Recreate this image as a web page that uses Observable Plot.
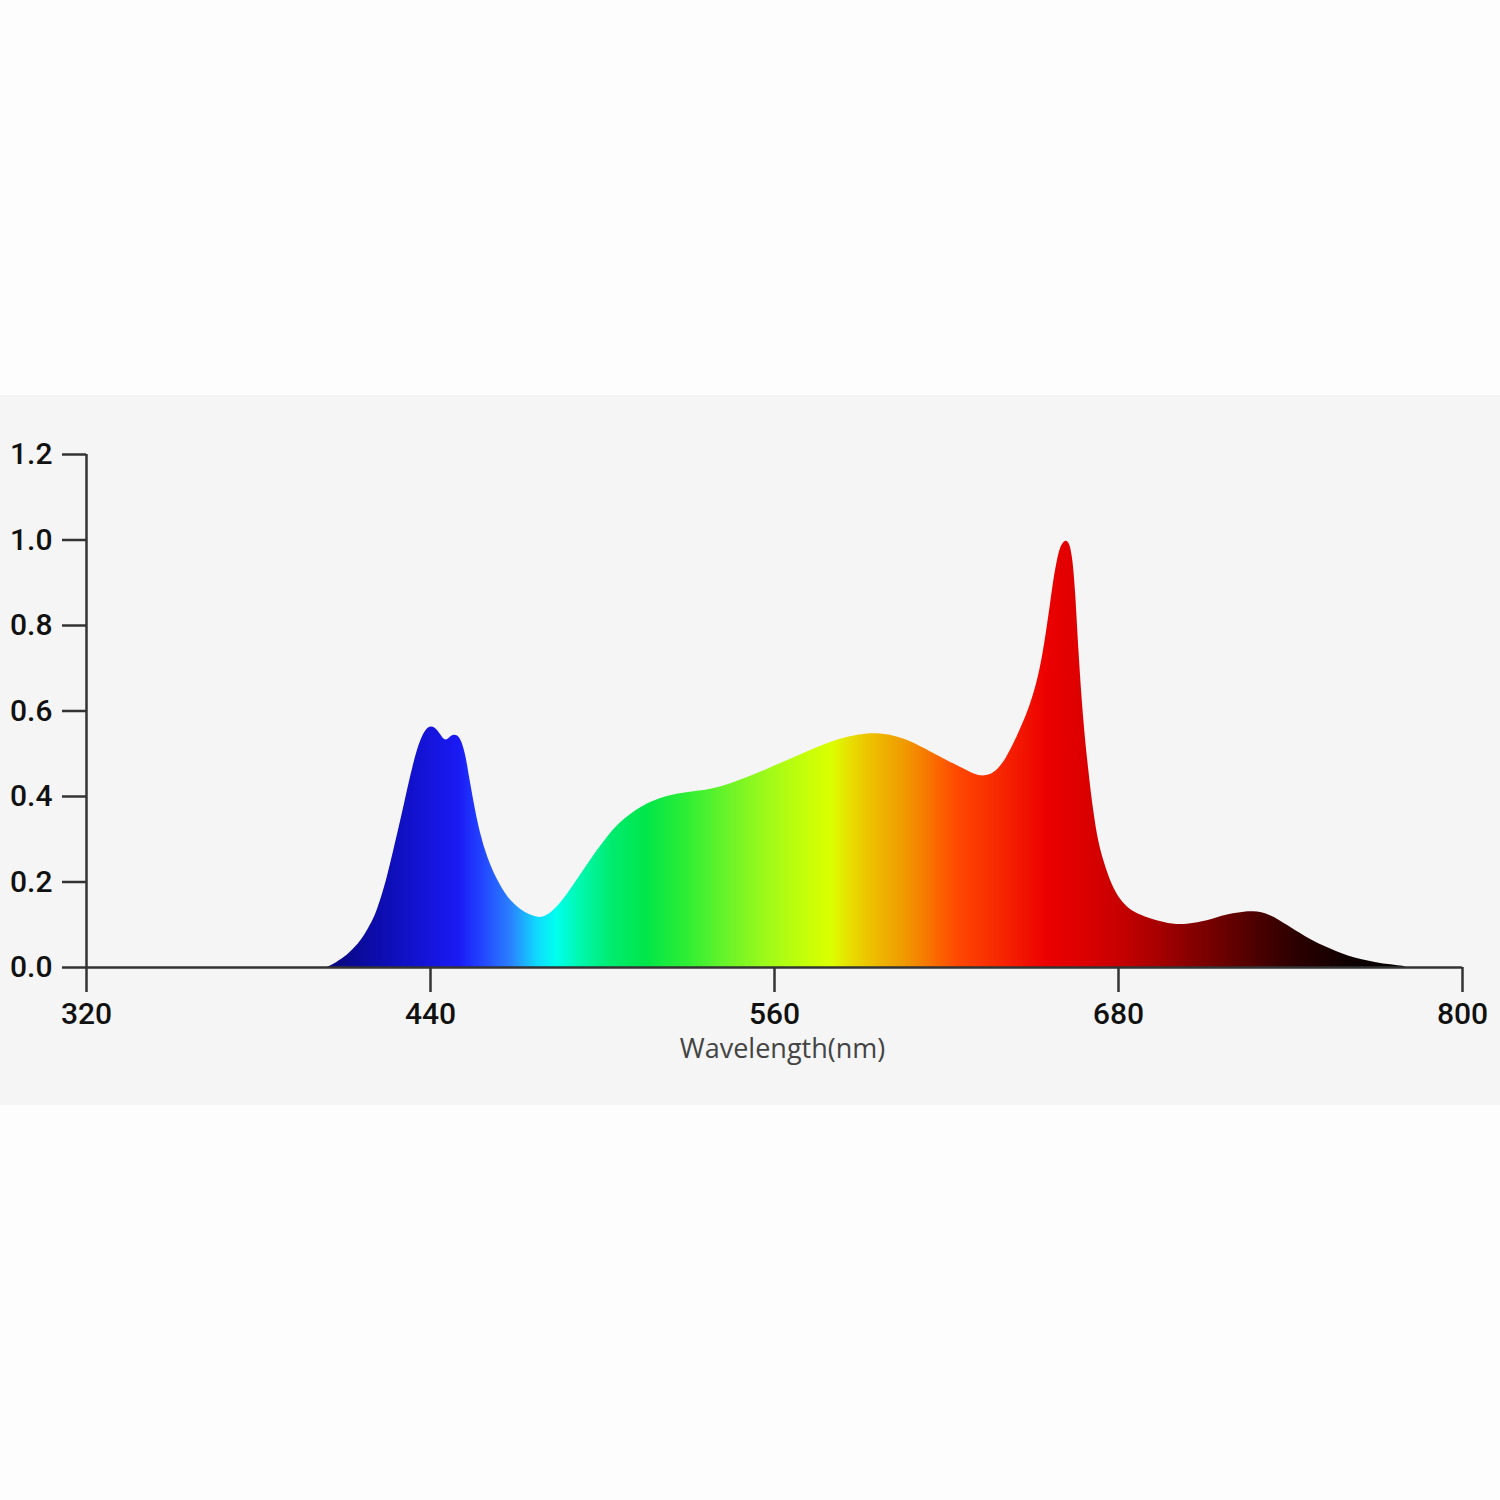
<!DOCTYPE html>
<html><head><meta charset="utf-8">
<script src="https://cdn.jsdelivr.net/npm/d3@7"></script>
<script src="https://cdn.jsdelivr.net/npm/@observablehq/plot@0.6"></script>
<style>
html,body{margin:0;padding:0;background:#fdfdfd;overflow:hidden;}
#top{height:395px;}
#panel{background:#f5f5f5;width:1500px;height:710px;}
</style></head><body>
<div id="top"></div><div id="panel"></div>
<script>
// Spectrum (nm, relative intensity)
const wavelengths = [404,407.5,410,413,415,417,419,421,423,425,427,429,431,433,435,437,439.3,441.7,443.5,445.2,446.8,448.2,450.5,452.2,453,454,455.7,457.4,459.8,463.3,466.8,471.4,477.3,480,483,487,492,497,502,506,510,516,521,527,533,539,545,551,557,562,568,574,580,586,592,597,601,605,609,614,620,625,629,632,635,638,641,644,647,649.3,651.6,653.5,655,656.3,657.4,658.6,659.8,661.5,662.8,663.9,665,666.2,667.8,669.6,671.4,673,674.8,677.5,680.7,684,687.7,693,699,704,709,713,716,720,724,727,730,733,736,739,742,745,748,752,756,760,765,770,775,780];
const intensities = [0,0.012,0.023,0.042,0.056,0.075,0.098,0.125,0.165,0.212,0.268,0.325,0.385,0.445,0.5,0.54,0.565,0.562,0.545,0.528,0.538,0.545,0.54,0.5,0.47,0.43,0.367,0.313,0.258,0.204,0.164,0.133,0.115,0.118,0.132,0.163,0.213,0.263,0.308,0.338,0.36,0.385,0.398,0.407,0.412,0.418,0.43,0.445,0.462,0.477,0.494,0.512,0.528,0.54,0.547,0.547,0.543,0.535,0.524,0.506,0.485,0.468,0.454,0.447,0.449,0.462,0.49,0.53,0.575,0.615,0.665,0.725,0.79,0.85,0.905,0.95,0.985,1.0,0.995,0.968,0.89,0.734,0.578,0.46,0.36,0.295,0.25,0.195,0.157,0.135,0.122,0.109,0.1,0.1,0.106,0.113,0.12,0.126,0.13,0.131,0.129,0.122,0.111,0.098,0.085,0.073,0.062,0.049,0.037,0.027,0.018,0.011,0.006,0.002];
// Spectral fill colours by wavelength
const gradientNm = [404,420,435,450,458,468,477,484,492,503,515,530,545,558,572,580,587,596,606,615,624,635,645,655,668,680,692,705,718,730,742,760,780];
const gradientColors = ["#08087a","#0c0ca8","#1212d0","#1a1af5","#2244ff","#2a80ff","#10d8ff","#00ffee","#00f8b0","#00ec70","#00e64a","#30ee34","#70f428","#a0fa18","#c8ff08","#dcff00","#e8dc00","#eeb800","#f09800","#f87000","#ff4800","#f83000","#f41800","#ec0000","#dc0000","#c80000","#ac0000","#880000","#680000","#480000","#2c0000","#100000","#000000"];
const xTicks = [320,440,560,680,800];
const yTicks = [0,0.2,0.4,0.6,0.8,1.0,1.2];
const xLabel = "Wavelength(nm)";

const data = wavelengths.map((nm, i) => ({nm, value: intensities[i]}));

function gradientDefs(index, scales) {
  const ns = "http://www.w3.org/2000/svg";
  const defs = document.createElementNS(ns, "defs");
  const lg = document.createElementNS(ns, "linearGradient");
  lg.setAttribute("id", "spectrum");
  lg.setAttribute("gradientUnits", "userSpaceOnUse");
  const a = gradientNm[0], b = gradientNm[gradientNm.length - 1];
  lg.setAttribute("x1", scales.x(a));
  lg.setAttribute("x2", scales.x(b));
  lg.setAttribute("y1", 0);
  lg.setAttribute("y2", 0);
  gradientNm.forEach((nm, i) => {
    const s = document.createElementNS(ns, "stop");
    s.setAttribute("offset", (nm - a) / (b - a));
    s.setAttribute("stop-color", gradientColors[i]);
    lg.appendChild(s);
  });
  defs.appendChild(lg);
  return defs;
}

const chart = Plot.plot({
  width: 1500,
  height: 710,
  marginLeft: 86,
  marginRight: 38,
  marginTop: 59,
  marginBottom: 138,
  style: {background: "#f5f5f5", fontFamily: "Roboto", overflow: "visible"},
  x: {domain: [320, 800]},
  y: {domain: [0, 1.2]},
  marks: [
    gradientDefs,
    Plot.areaY(data, {x: "nm", y: "value", fill: "url(#spectrum)", curve: "basis"}),
    Plot.ruleY([0], {stroke: "#333", strokeWidth: 2.5}),
    Plot.ruleX([320], {y1: 0, y2: 1.2, stroke: "#333", strokeWidth: 2.5}),
    Plot.axisY({ticks: yTicks, tickFormat: d3.format(".1f"), tickSize: 24, tickPadding: 10, fontSize: 30, fontFamily: "Roboto", fontWeight: 500, stroke: "#333", strokeWidth: 2.5, fill: "#111", label: null}),
    Plot.axisX({ticks: xTicks, tickFormat: d => String(d), tickSize: 25, tickPadding: 10, fontSize: 30, fontFamily: "Roboto", fontWeight: 500, stroke: "#333", strokeWidth: 2.5, fill: "#111", label: null}),
    Plot.text([xLabel], {text: d => d, frameAnchor: "bottom", dx: 8, dy: 82, fontSize: 27, fill: "#444", fontFamily: "Open Sans", lineAnchor: "middle"})
  ]
});
document.getElementById("panel").appendChild(chart);
</script>
</body></html>
